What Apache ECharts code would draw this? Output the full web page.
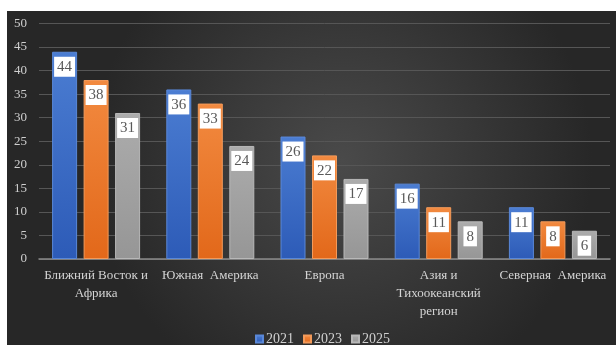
<!DOCTYPE html>
<html>
<head>
<meta charset="utf-8">
<script src="https://cdn.jsdelivr.net/npm/echarts@6/dist/echarts.min.js"></script>
<style>
  html, body { margin: 0; padding: 0; background: #ffffff; }
  #chart { width: 616px; height: 345px; }
</style>
</head>
<body>
<div id="chart"></div>
<script>
// Regions (line breaks as they are shown under the axis)
const regions = [
  'Ближний Восток и\nАфрика',
  'Южная  Америка',
  'Европа',
  'Азия и\nТихоокеанский\nрегион',
  'Северная  Америка'
];
const years = ['2021', '2023', '2025'];
const values2021 = [44, 36, 26, 16, 11];
const values2023 = [38, 33, 22, 11, 8];
const values2025 = [31, 24, 17, 8, 6];
const yTicks = [0, 5, 10, 15, 20, 25, 30, 35, 40, 45, 50];

const serif = '"Liberation Serif", "DejaVu Serif", serif';

function vgrad(top, bottom) {
  return new echarts.graphic.LinearGradient(0, 0, 0, 1, [
    { offset: 0, color: top },
    { offset: 1, color: bottom }
  ]);
}

const styles = [
  { fill: vgrad('#4b7dd2', '#2d5bb7'), border: '#5a88d8' },
  { fill: vgrad('#f28a40', '#e2681a'), border: '#f39a5a' },
  { fill: vgrad('#acacac', '#969696'), border: '#b8b8b8' }
];
const seriesValues = [values2021, values2023, values2025];

const chart = echarts.init(document.getElementById('chart'), null, { renderer: 'canvas' });

chart.setOption({
  backgroundColor: '#ffffff',
  animation: false,
  graphic: [{
    type: 'rect',
    z: -10,
    silent: true,
    shape: { x: 7, y: 11, width: 609, height: 334 },
    style: {
      fill: new echarts.graphic.RadialGradient(0.55, 0.45, 0.75, [
        { offset: 0, color: '#4a4a4a' },
        { offset: 1, color: '#272727' }
      ])
    }
  }],
  grid: { left: 39, right: 6, top: 23.5, bottom: 86, containLabel: false },
  legend: {
    data: years,
    left: 250,
    top: 327,
    itemWidth: 7,
    itemHeight: 7,
    itemGap: 9,
    icon: 'rect',
    textStyle: { color: '#d0d0d0', fontSize: 14, fontFamily: serif, padding: [0, 0, 0, -2] }
  },
  xAxis: {
    type: 'category',
    data: regions,
    axisLine: { lineStyle: { color: '#8a8a8a', width: 1.5 } },
    axisTick: { show: false },
    axisLabel: {
      color: '#d4d4d4',
      fontSize: 13,
      fontFamily: serif,
      lineHeight: 18,
      margin: 8,
      interval: 0
    }
  },
  yAxis: {
    type: 'value',
    min: yTicks[0],
    max: yTicks[yTicks.length - 1],
    interval: yTicks[1] - yTicks[0],
    axisLine: { show: false },
    axisTick: { show: false },
    splitLine: { lineStyle: { color: '#565656', width: 1 } },
    axisLabel: {
      color: '#cfcfcf',
      fontSize: 13,
      fontFamily: serif,
      margin: 12
    }
  },
  series: years.map((name, i) => ({
    name: name,
    type: 'bar',
    data: seriesValues[i],
    barWidth: 25,
    barGap: '26%',
    itemStyle: {
      color: styles[i].fill,
      borderColor: styles[i].border,
      borderWidth: 1
    },
    label: {
      show: true,
      position: 'insideTop',
      distance: 5,
      backgroundColor: '#ffffff',
      padding: [3, 3, 2, 3],
      color: '#595959',
      fontSize: 15,
      fontFamily: serif
    }
  })),
  color: ['#4472c4', '#ed7d31', '#a5a5a5']
});
</script>
</body>
</html>
